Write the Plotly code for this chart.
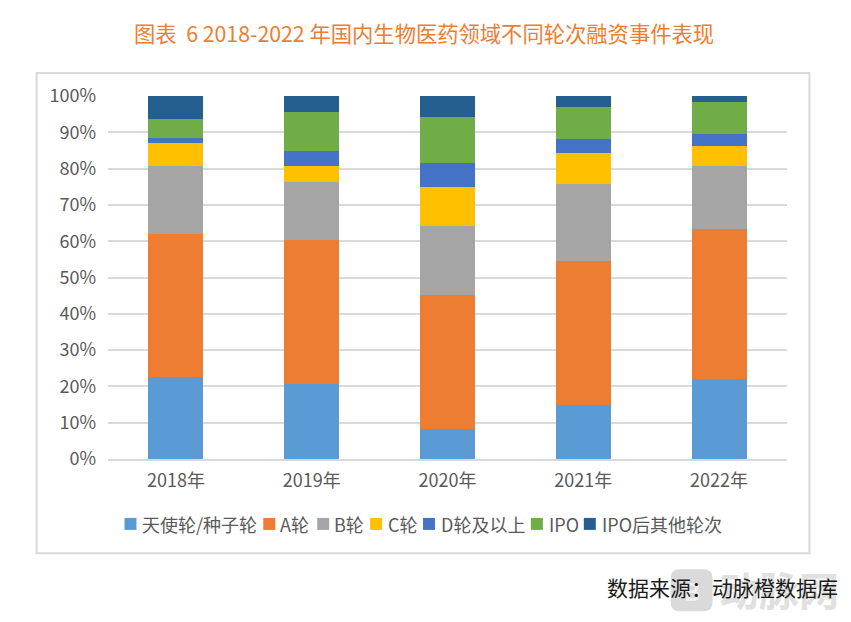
import plotly.graph_objects as go

years = ["2018年", "2019年", "2020年", "2021年", "2022年"]
angel = [22.7, 20.8, 8.4, 15.0, 22.1]
round_a = [39.3, 39.6, 36.9, 39.5, 41.3]
round_b = [18.8, 16.0, 19.0, 21.3, 17.4]
round_c = [6.3, 4.3, 10.7, 8.5, 5.4]
round_d = [1.3, 4.2, 6.6, 3.9, 3.3]
ipo = [5.3, 10.7, 12.6, 8.8, 8.8]
post_ipo = [6.3, 4.4, 5.8, 3.0, 1.7]

names = ["天使轮/种子轮", "A轮", "B轮", "C轮", "D轮及以上", "IPO", "IPO后其他轮次"]
series = [angel, round_a, round_b, round_c, round_d, ipo, post_ipo]
colors = ["#5B9BD5", "#ED7D31", "#A5A5A5", "#FFC000", "#4472C4", "#70AD47", "#255E91"]
tick_vals = list(range(0, 101, 10))
tick_text = [f"{v}%" for v in tick_vals]

W, H = 851, 622
OFF = 8  # the page's body margin
L, R, T, B = 107.5, 787.5, 96, 459.5
FONT = "Noto Sans CJK SC"
legend_swatch_x = [124, 263, 317, 370, 423, 531, 584]
legend_text_x = [140, 278, 332, 386, 439, 547, 600]
LEG_Y = 524.5

def px(x):
    return (x - L) / (R - L)

def py(y):
    return (B - y) / (B - T)

def rounded(x0, y0, x1, y1, r):
    a, b, c, d = px(x0), px(x0 + r), px(x1 - r), px(x1)
    e, f, g, h = py(y0), py(y0 + r), py(y1 - r), py(y1)
    return (f"M {b} {e} L {c} {e} Q {d} {e} {d} {f} L {d} {g} Q {d} {h} {c} {h} "
            f"L {b} {h} Q {a} {h} {a} {g} L {a} {f} Q {a} {e} {b} {e} Z")

fig = go.Figure()
for name, vals, col in zip(names, series, colors):
    fig.add_trace(go.Bar(x=years, y=vals, name=name, showlegend=False,
                         marker=dict(color=col, line=dict(width=0))))

shapes = [
    dict(type="rect", xref="paper", yref="paper", x0=px(36), x1=px(810), y0=py(554), y1=py(73),
         line=dict(color="#D9D9D9", width=2), fillcolor="rgba(0,0,0,0)", layer="below"),
    dict(type="path", xref="paper", yref="paper", path=rounded(671, 570, 713, 612, 9),
         line=dict(width=0), fillcolor="#DADADA", layer="below"),
]
annotations = [
    dict(text="图表  6 2018-2022 年国内生物医药领域不同轮次融资事件表现", xref="paper", yref="paper",
         x=px(424), y=py(32), xanchor="center", yanchor="middle", showarrow=False,
         font=dict(size=21.3, color="#ED7D31", family=FONT)),
    dict(text="<b>B</b>", xref="paper", yref="paper", x=px(692), y=py(591), xanchor="center",
         yanchor="middle", showarrow=False, font=dict(size=24, color="#F0F0F0", family=FONT)),
    dict(text="<b>动脉网</b>", xref="paper", yref="paper", x=px(779), y=py(590), xanchor="center",
         yanchor="middle", showarrow=False, font=dict(size=40, color="#E0E0E0", family=FONT)),
    dict(text="数据来源：动脉橙数据库", xref="paper", yref="paper", x=px(841), y=py(588),
         xanchor="right", yanchor="middle", showarrow=False,
         font=dict(size=21, color="#1a1a1a", family=FONT)),
]
for name, col, sx, tx in zip(names, colors, legend_swatch_x, legend_text_x):
    shapes.append(dict(type="rect", xref="paper", yref="paper", x0=px(sx), x1=px(sx + 12),
                       y0=py(LEG_Y + 6), y1=py(LEG_Y - 6), line=dict(width=0), fillcolor=col))
    annotations.append(dict(text=name, xref="paper", yref="paper", x=px(tx), y=py(LEG_Y),
                            xanchor="left", yanchor="middle", showarrow=False,
                            font=dict(size=18, color="#595959", family=FONT)))

fig.update_layout(
    barmode="stack", bargap=0.595, width=W - OFF, height=H - OFF, autosize=False,
    margin=dict(l=L - OFF, r=W - R, t=T - OFF, b=H - B, pad=0),
    paper_bgcolor="white", plot_bgcolor="white", showlegend=False,
    font=dict(family=FONT, size=17, color="#595959"),
    xaxis=dict(showline=True, linecolor="#D9D9D9", linewidth=1.5, ticks="", showgrid=False,
               tickfont=dict(size=18, color="#595959"), ticklabelstandoff=5, fixedrange=True),
    yaxis=dict(range=[0, 100], tickvals=tick_vals, ticktext=tick_text, showgrid=True,
               gridcolor="#D9D9D9", gridwidth=1.5, zeroline=False, ticks="", ticklen=0,
               tickfont=dict(size=18, color="#595959"), ticklabelstandoff=11, fixedrange=True),
    shapes=shapes, annotations=annotations,
)
fig.write_html("out.html")
